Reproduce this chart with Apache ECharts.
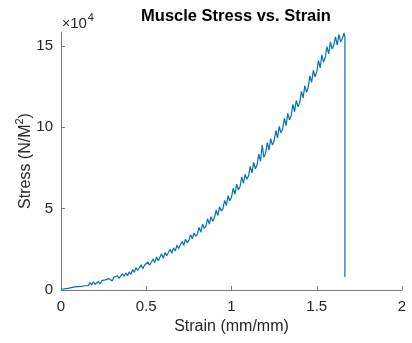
<!DOCTYPE html>
<html>
<head>
<meta charset="utf-8">
<script src="https://cdn.jsdelivr.net/npm/echarts@6/dist/echarts.min.js"></script>
<style>
  html, body { margin: 0; padding: 0; background: #fff; }
  #chart { width: 412px; height: 343px; }
</style>
</head>
<body>
<div id="chart"></div>
<script>
// strain (mm/mm) and stress (x10^4 N/M^2)
var strain = [
  0.00, 0.01, 0.02, 0.03, 0.04, 0.05, 0.06, 0.07, 0.08, 0.09,
  0.10, 0.11, 0.12, 0.13, 0.14, 0.15, 0.16, 0.17, 0.18, 0.19,
  0.20, 0.21, 0.22, 0.23, 0.24, 0.25, 0.26, 0.27, 0.28, 0.29,
  0.30, 0.31, 0.32, 0.33, 0.34, 0.35, 0.36, 0.37, 0.38, 0.39,
  0.40, 0.41, 0.42, 0.43, 0.44, 0.45, 0.46, 0.47, 0.48, 0.49,
  0.50, 0.51, 0.52, 0.53, 0.54, 0.55, 0.56, 0.57, 0.58, 0.59,
  0.60, 0.61, 0.62, 0.63, 0.64, 0.65, 0.66, 0.67, 0.68, 0.69,
  0.70, 0.71, 0.72, 0.73, 0.74, 0.75, 0.76, 0.77, 0.78, 0.79,
  0.80, 0.81, 0.82, 0.83, 0.84, 0.85, 0.86, 0.87, 0.88, 0.89,
  0.90, 0.91, 0.92, 0.93, 0.94, 0.95, 0.96, 0.97, 0.98, 0.99,
  1.00, 1.01, 1.02, 1.03, 1.04, 1.05, 1.06, 1.07, 1.08, 1.09,
  1.10, 1.11, 1.12, 1.13, 1.14, 1.15, 1.16, 1.17, 1.18, 1.19,
  1.20, 1.21, 1.22, 1.23, 1.24, 1.25, 1.26, 1.27, 1.28, 1.29,
  1.30, 1.31, 1.32, 1.33, 1.34, 1.35, 1.36, 1.37, 1.38, 1.39,
  1.40, 1.41, 1.42, 1.43, 1.44, 1.45, 1.46, 1.47, 1.48, 1.49,
  1.50, 1.51, 1.52, 1.53, 1.54, 1.55, 1.56, 1.57, 1.58, 1.59,
  1.60, 1.61, 1.62, 1.63, 1.64, 1.65, 1.66, 1.665, 1.665
];
var stress = [
  0.05, 0.07, 0.07, 0.11, 0.10, 0.12, 0.15, 0.14, 0.19, 0.17,
  0.21, 0.24, 0.22, 0.28, 0.26, 0.33, 0.27, 0.45, 0.32, 0.50,
  0.35, 0.44, 0.52, 0.38, 0.58, 0.46, 0.62, 0.50, 0.70, 0.82,
  0.55, 0.78, 0.70, 0.88, 0.72, 0.80, 1.00, 0.84, 1.05, 0.88,
  1.12, 0.95, 1.25, 1.08, 1.38, 1.20, 1.18, 1.55, 1.30, 1.52,
  1.42, 1.72, 1.52, 1.62, 1.90, 1.68, 2.02, 1.80, 1.88, 2.22,
  1.95, 2.30, 2.10, 2.20, 2.50, 2.25, 2.58, 2.40, 2.75, 2.55,
  2.62, 2.98, 2.75, 3.12, 2.90, 3.05, 3.40, 3.15, 3.50, 3.30,
  3.45, 3.85, 3.55, 4.05, 3.78, 3.92, 4.38, 4.05, 4.50, 4.22,
  4.45, 4.90, 4.58, 5.12, 4.85, 5.00, 5.50, 5.20, 5.80, 5.48,
  5.70, 6.25, 5.88, 6.50, 6.15, 6.35, 6.95, 6.55, 7.10, 6.80,
  7.00, 7.60, 7.20, 7.85, 7.45, 7.70, 8.35, 7.90, 8.90, 8.15,
  8.40, 9.05, 8.60, 9.30, 8.90, 9.15, 9.80, 9.35, 10.05, 9.65,
  9.90, 10.55, 10.10, 10.85, 10.45, 10.70, 11.40, 10.95, 11.65, 11.25,
  11.50, 12.20, 11.80, 12.55, 12.15, 12.45, 13.15, 12.75, 13.50, 13.10,
  13.40, 14.10, 13.65, 14.45, 14.00, 14.30, 14.95, 14.50, 15.25, 14.80,
  15.05, 15.55, 15.05, 15.70, 15.25, 15.45, 15.80, 15.55, 0.80
];
var xTicks = [0, 0.5, 1, 1.5, 2];
var yTicks = [0, 5, 10, 15];

var points = strain.map(function (s, i) { return [s, stress[i]]; });

var font = 'Liberation Sans, Arial, sans-serif';
var chart = echarts.init(document.getElementById('chart'));
var option = {
    animation: false,
    title: {
        text: 'Muscle Stress vs. Strain',
        left: 231,
        textAlign: 'center',
        top: 3,
        textStyle: { fontFamily: font, fontSize: 16.5, fontWeight: 'bold', color: '#000' }
    },
    grid: { left: 61, right: 10, top: 32, bottom: 53, outerBoundsMode: 'none', containLabel: false },
    xAxis: {
        type: 'value',
        min: 0, max: 2, interval: 0.5,
        name: 'Strain (mm/mm)',
        nameLocation: 'middle',
        nameGap: 28,
        nameTextStyle: { fontFamily: font, fontSize: 16, color: '#262626' },
        axisLine: { lineStyle: { color: '#7a7a7a', width: 1 } },
        axisTick: { inside: true, length: 4, customValues: xTicks, lineStyle: { color: '#7a7a7a' } },
        axisLabel: { customValues: xTicks, margin: 9, fontFamily: font, fontSize: 15, color: '#262626' },
        splitLine: { show: false }
    },
    yAxis: {
        type: 'value',
        min: 0, max: 15.85,
        axisLine: { show: true, lineStyle: { color: '#7a7a7a', width: 1 } },
        axisTick: { show: true, inside: true, length: 4, customValues: yTicks, lineStyle: { color: '#7a7a7a' } },
        axisLabel: { customValues: yTicks, margin: 8, fontFamily: font, fontSize: 15, color: '#262626' },
        splitLine: { show: false }
    },
    graphic: [{
        // y axis title, rotated
        type: 'text',
        x: 24, y: 161,
        rotation: Math.PI / 2,
        style: {
            text: '{a|Stress (N/M}{s|2}{a|)}',
            align: 'center',
            verticalAlign: 'middle',
            rich: {
                a: { fontFamily: font, fontSize: 16, fill: '#262626', lineHeight: 20, verticalAlign: 'bottom' },
                s: { fontFamily: font, fontSize: 11, fill: '#262626', lineHeight: 20, verticalAlign: 'top', padding: [0, 0, 8, 0] }
            }
        }
    }, {
        // axis exponent
        type: 'text',
        x: 62, y: 12,
        style: {
            text: '{x|×}{a|10}{s|4}',
            rich: {
                x: { fontFamily: font, fontSize: 14, fill: '#262626', lineHeight: 19, verticalAlign: 'bottom' },
                a: { fontFamily: font, fontSize: 15, fill: '#262626', lineHeight: 19, verticalAlign: 'bottom' },
                s: { fontFamily: font, fontSize: 11, fill: '#262626', lineHeight: 19, verticalAlign: 'top', padding: [0, 0, 0, 1] }
            }
        }
    }],
    series: [{
        type: 'line',
        data: points,
        showSymbol: false,
        lineStyle: { color: '#0072BD', width: 1.2 }
    }]
};
chart.setOption(option);
</script>
</body>
</html>
